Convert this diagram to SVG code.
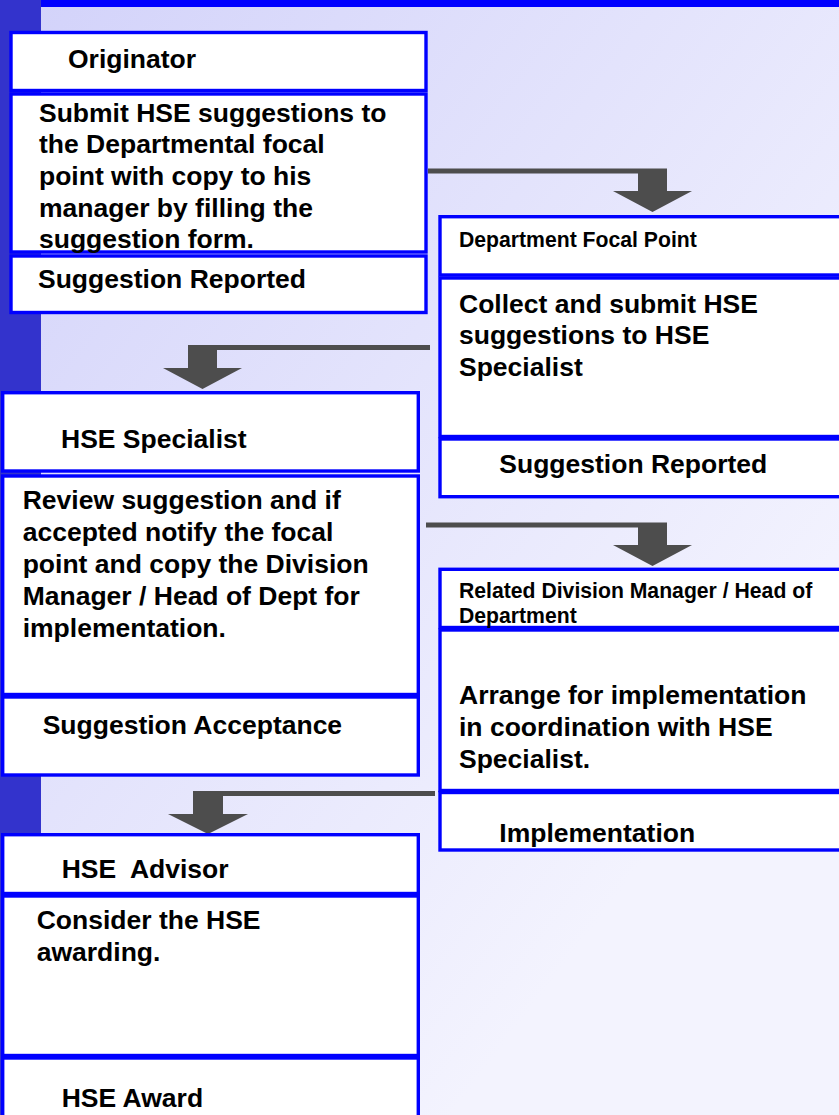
<svg xmlns="http://www.w3.org/2000/svg" width="839" height="1115" viewBox="0 0 839 1115">
<defs>
<linearGradient id="bg" gradientUnits="userSpaceOnUse" x1="40" y1="0" x2="839" y2="600">
<stop offset="0" stop-color="#D3D3FA"/>
<stop offset="1" stop-color="#F3F3FE"/>
</linearGradient>
<style>
.sec{fill:#FFFFFF;stroke:#0000FF;stroke-width:3.4}
.t{font-family:"Liberation Sans",Arial,sans-serif;font-weight:bold;font-size:26.5px;fill:#000}
.s{font-family:"Liberation Sans",Arial,sans-serif;font-weight:bold;font-size:21.2px;fill:#000}
.arr{fill:#4D4D4D}
</style>
</defs>
<rect x="0" y="0" width="839" height="1115" fill="url(#bg)"/>
<rect x="0" y="0" width="41" height="1115" fill="#3333CC"/>
<rect x="41" y="0" width="798" height="7" fill="#0000FF"/>

<g id="connectors">
<path class="arr" d="M428,168.5 H667 V191 H692 L652.5,212 L613,191 H638 V173.5 H428 Z"/>
<path class="arr" d="M430,345 H188 V368 H163 L202.5,389 L242,368 H217 V350 H430 Z"/>
<path class="arr" d="M426,522.5 H667 V545 H692 L652.5,566 L613,545 H638 V527.5 H426 Z"/>
<path class="arr" d="M435,791 H193 V814 H168 L208,834 L248,814 H223 V796 H435 Z"/>
</g>

<g id="originator">
<rect class="sec" x="11" y="32.5" width="415" height="58"/>
<rect class="sec" x="11" y="94" width="415" height="158"/>
<rect class="sec" x="11" y="256" width="415" height="56.5"/>
<text class="t" x="68" y="68.3">Originator</text>
<text class="t" x="39" y="121.7">Submit HSE suggestions to</text>
<text class="t" x="39" y="153.3">the Departmental focal</text>
<text class="t" x="39" y="185">point with copy to his</text>
<text class="t" x="39" y="216.7">manager by filling the</text>
<text class="t" x="39" y="248.3">suggestion form.</text>
<text class="t" x="38" y="288.3">Suggestion Reported</text>
</g>

<g id="focal-point">
<rect class="sec" x="440" y="216.7" width="410" height="58.3"/>
<rect class="sec" x="440" y="278" width="410" height="158.5"/>
<rect class="sec" x="440" y="439" width="410" height="57.7"/>
<text class="s" x="459" y="247.3">Department Focal Point</text>
<text class="t" x="459" y="312.7">Collect and submit HSE</text>
<text class="t" x="459" y="344">suggestions to HSE</text>
<text class="t" x="459" y="376">Specialist</text>
<text class="t" x="499.3" y="473.3">Suggestion Reported</text>
</g>

<g id="hse-specialist">
<rect class="sec" x="2.7" y="392.7" width="415.6" height="78.3"/>
<rect class="sec" x="2.7" y="476" width="415.6" height="218.5"/>
<rect class="sec" x="2.7" y="697" width="415.6" height="78"/>
<text class="t" x="61" y="448.3">HSE Specialist</text>
<text class="t" x="22.7" y="509.3">Review suggestion and if</text>
<text class="t" x="22.7" y="541">accepted notify the focal</text>
<text class="t" x="22.7" y="573.3">point and copy the Division</text>
<text class="t" x="22.7" y="605">Manager / Head of Dept for</text>
<text class="t" x="22.7" y="636.7">implementation.</text>
<text class="t" x="42.7" y="734.3">Suggestion Acceptance</text>
</g>

<g id="division-manager">
<rect class="sec" x="440" y="569.3" width="410" height="58.2"/>
<rect class="sec" x="440" y="630" width="410" height="160.5"/>
<rect class="sec" x="440" y="792.5" width="410" height="57.5"/>
<text class="s" x="459" y="598.3">Related Division Manager / Head of</text>
<text class="s" x="459" y="623.3">Department</text>
<text class="t" x="459" y="704">Arrange for implementation</text>
<text class="t" x="459" y="736">in coordination with HSE</text>
<text class="t" x="459" y="768.3">Specialist.</text>
<text class="t" x="499.3" y="841.7">Implementation</text>
</g>

<g id="hse-advisor">
<rect class="sec" x="2.7" y="834.7" width="415.6" height="58.8"/>
<rect class="sec" x="2.7" y="896" width="415.6" height="159.5"/>
<rect class="sec" x="2.7" y="1058" width="415.6" height="67"/>
<text class="t" x="61.7" y="878.3" xml:space="preserve">HSE  Advisor</text>
<text class="t" x="36.7" y="929.3">Consider the HSE</text>
<text class="t" x="36.7" y="961">awarding.</text>
<text class="t" x="61.7" y="1106.7">HSE Award</text>
</g>
</svg>
